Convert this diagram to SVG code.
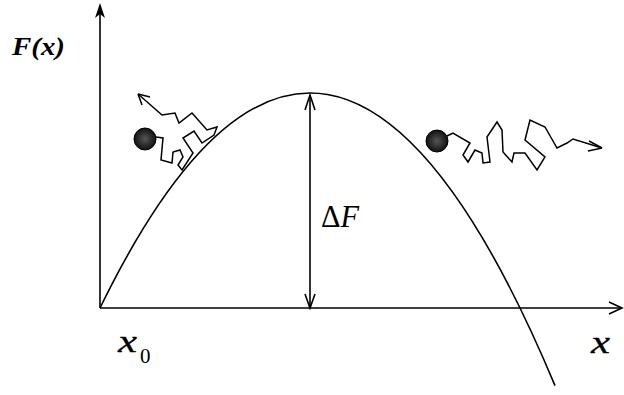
<svg xmlns="http://www.w3.org/2000/svg" width="624" height="395" viewBox="0 0 624 395">
<style>
.ln{fill:none;stroke:#000;stroke-width:1.6;stroke-linejoin:miter}
.walk{fill:none;stroke:#000;stroke-width:1.5;stroke-linejoin:miter}
.ah{fill:none;stroke:#000;stroke-width:1.6}
.t{font-family:"Liberation Serif",serif;fill:#000}
.xv{font-family:"Liberation Serif",serif;fill:#000;stroke:#000;stroke-width:0.3;font-style:italic;font-size:31px}
.ball{stroke:#000;stroke-width:1}
</style>
<defs>
<radialGradient id="bg" cx="0.5" cy="0.5" r="0.5">
<stop offset="0" stop-color="#555"/><stop offset="1" stop-color="#111"/>
</radialGradient>
</defs>
<g id="axes">
<path class="ln" d="M100,308 V6"/>
<path d="M100,3 L95,18 L100,14 L105,18 Z" fill="#000"/>
<path class="ln" d="M100,308 H621"/>
<path class="ah" d="M609,302 L622,308 L609,314"/>
</g>
<g id="curve">
<path class="ln" d="M100,308 Q327.5,-157.8 555,385.6"/>
</g>
<g id="connectors">
<path class="ln" d="M310,96 V306"/>
<path class="ah" d="M305,110 L310,95 L315,110"/>
<path class="ah" d="M305,294 L310,308 L315,294"/>
</g>
<g id="left-particle">
<circle class="ball" cx="145" cy="139" r="11" fill="url(#bg)"/>
<path class="walk" d="M156,137 L163,138 L161,160 L172,163 L173,152 L180,150 L183,157 L178,165 L182,170 L193,153 L183,138 L194,131 L202,143 L214,135 L217,127 L207,130 L192,113 L179,123 L175,113 L162,115 L138,94"/>
<path class="walk" d="M138,94 L150,97 M138,94 L142,105"/>
</g>
<g id="right-particle">
<circle class="ball" cx="437" cy="141" r="11" fill="url(#bg)"/>
<path class="walk" d="M447,136 L453,133 L470,143 L463,155 L468,162 L475,150 L482,153 L483,163 L490,162 L487,137 L497,122 L502,130 L503,152 L512,162 L514,153 L525,153 L537,170 L545,157 L525,140 L530,120 L545,127 L557,148 L567,143 L573,139 L602,148"/>
<path class="walk" d="M602,148 L589,141 M602,148 L588,151"/>
</g>
<g id="labels">
<text class="t" x="12" y="55" font-size="25" font-style="italic" font-weight="bold" textLength="53" lengthAdjust="spacingAndGlyphs">F(x)</text>
<text class="xv" x="118" y="352" textLength="19" lengthAdjust="spacingAndGlyphs">x</text>
<text class="t" x="140" y="363" font-size="21">0</text>
<text class="xv" x="591" y="353" textLength="19" lengthAdjust="spacingAndGlyphs">x</text>
<text class="t" x="321" y="227" font-size="31" textLength="38" lengthAdjust="spacingAndGlyphs"><tspan>Δ</tspan><tspan font-style="italic">F</tspan></text>
</g>
</svg>
